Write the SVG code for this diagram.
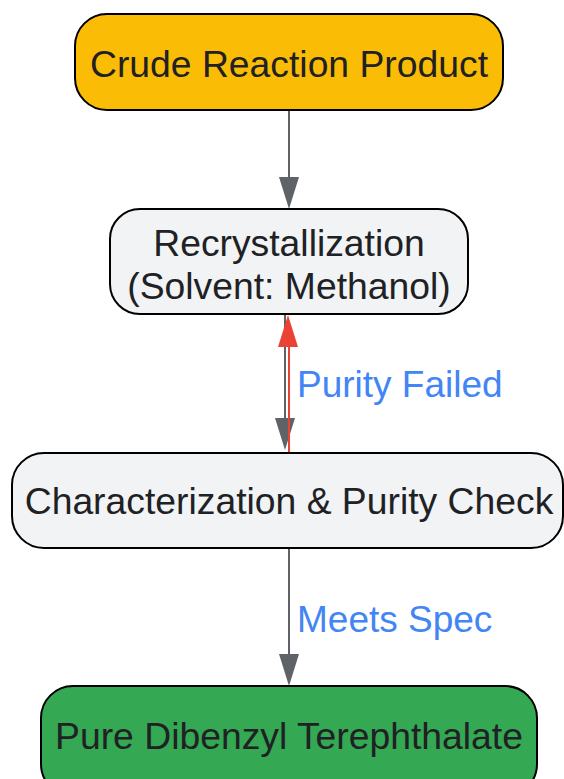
<svg xmlns="http://www.w3.org/2000/svg" width="564" height="779" viewBox="0 0 564 779">
<defs>
<style>
.node{stroke:#000;stroke-width:2}
.t{font-family:"Liberation Sans",Arial,sans-serif;font-size:37.3px;fill:#202124;text-anchor:middle}
.lbl{font-family:"Liberation Sans",Arial,sans-serif;font-size:37px;fill:#4285F4}
.e{fill:none;stroke:#5F6368;stroke-width:2}
.er{fill:none;stroke:#EA4335;stroke-width:2}
</style>
</defs>
<rect width="564" height="779" fill="#fff"/>
<g id="connectors">
<line class="e" x1="289" y1="110" x2="289" y2="178"/>
<path d="M279,177 L299,177 L289,209 Z" fill="#5F6368"/>
<line class="e" x1="285" y1="314" x2="285" y2="420"/>
<path d="M275,418 L295,418 L285,450 Z" fill="#5F6368"/>
<line class="er" x1="289" y1="452" x2="289" y2="345"/>
<path d="M278,347 L298,347 L288,315 Z" fill="#EA4335"/>
<line class="e" x1="289" y1="548" x2="289" y2="656"/>
<path d="M279,654 L299,654 L289,686 Z" fill="#5F6368"/>
<text class="lbl" x="297" y="397">Purity Failed</text>
<text class="lbl" x="297" y="632">Meets Spec</text>
</g>
<g id="crude">
<rect class="node" x="75" y="14" width="428" height="96" rx="32" fill="#FBBC05"/>
<text class="t" x="289" y="77">Crude Reaction Product</text>
</g>
<g id="recryst">
<rect class="node" x="110" y="209" width="358" height="105" rx="30" fill="#F1F3F4"/>
<text class="t" x="289" y="256">Recrystallization</text>
<text class="t" x="289" y="299">(Solvent: Methanol)</text>
</g>
<g id="check">
<rect class="node" x="12" y="453" width="551" height="95" rx="32" fill="#F1F3F4"/>
<text class="t" x="289" y="514">Characterization &amp; Purity Check</text>
</g>
<g id="pure">
<rect class="node" x="41" y="686" width="496" height="110" rx="32" fill="#34A853"/>
<text class="t" x="289" y="749">Pure Dibenzyl Terephthalate</text>
</g>
</svg>
